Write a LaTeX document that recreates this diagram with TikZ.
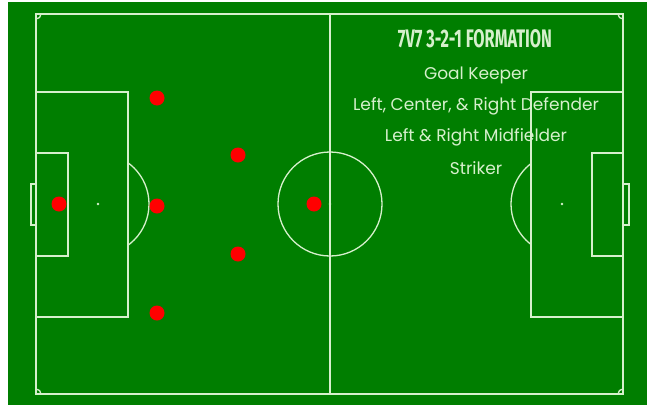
\documentclass[tikz,border=0pt]{standalone}
\usepackage{fontspec}
\usepackage{graphicx}
\newfontfamily\rolefont{Poppins}
\newfontfamily\titlefont{Fira Sans}
\definecolor{pitch}{RGB}{0,126,0}
\definecolor{chalk}{RGB}{214,240,204}
\tikzset{
  line/.style={chalk, line width=1.3pt},
  player/.style={circle, fill=red, inner sep=0pt, minimum size=15pt},
  role/.style={text=chalk, inner sep=0pt, font=\rolefont\fontsize{17}{18}\selectfont}
}
\begin{document}
\begin{tikzpicture}[x=1pt, y=-1pt]
  \useasboundingbox (0,0) rectangle (647,407);
  \fill[pitch] (8,2) rectangle (647,405);
  % touchlines, halfway line, centre
  \draw[line] (36,14) rectangle (623,394);
  \draw[line] (330,14) -- (330,394);
  \draw[line] (330,204) circle[radius=52pt];
  \fill[chalk] (330,204) circle[radius=1.3pt];
  % left end
  \draw[line] (36,92) rectangle (128,317);
  \draw[line] (36,153) rectangle (68,256);
  \draw[line] (36,184) -- (31,184) -- (31,225) -- (36,225);
  \fill[chalk] (98,204) circle[radius=1.3pt];
  % right end
  \draw[line] (623,92) rectangle (531,317);
  \draw[line] (623,153) rectangle (592,256);
  \draw[line] (623,184) -- (629,184) -- (629,225) -- (623,225);
  \fill[chalk] (562,204) circle[radius=1.3pt];
  % penalty arcs
  \begin{scope}
    \clip (128,14) rectangle (200,394);
    \draw[line] (98,204) circle[radius=51pt];
  \end{scope}
  \begin{scope}
    \clip (460,14) rectangle (531,394);
    \draw[line] (562,204) circle[radius=51pt];
  \end{scope}
  % corner arcs
  \begin{scope}
    \clip (36,14) rectangle (623,394);
    \foreach \x/\y in {36/14, 623/14, 36/394, 623/394}
      \draw[line] (\x,\y) circle[radius=5pt];
  \end{scope}
  % players
  \node[player] (gk) at (59,204) {};
  \node[player] (ld) at (157,98) {};
  \node[player] (cd) at (157,206) {};
  \node[player] (rd) at (157,313) {};
  \node[player] (lm) at (238,155) {};
  \node[player] (rm) at (238,254) {};
  \node[player] (st) at (314,204) {};
  % legend
  \node[text=chalk, inner sep=0pt] (title) at (475,39)
    {\resizebox{154pt}{18pt}{\titlefont\bfseries 7V7 3-2-1 FORMATION}};
  \node[role] (keeper) at (476,75) {Goal Keeper};
  \node[role] (defend) at (476,106) {Left, Center, \& Right Defender};
  \node[role] (midfld) at (476,137) {Left \& Right Midfielder};
  \node[role] (strike) at (476,168) {Striker};
\end{tikzpicture}
\end{document}
